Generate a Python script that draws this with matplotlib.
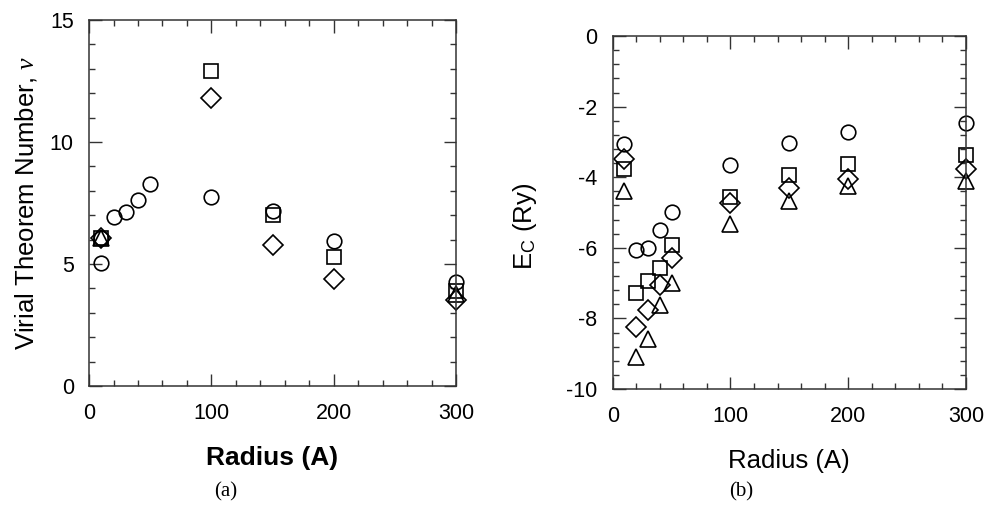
import matplotlib
matplotlib.use("Agg")
import matplotlib.pyplot as plt
from matplotlib.ticker import MultipleLocator

plt.rcParams['font.family'] = ['Liberation Sans', 'DejaVu Sans']
plt.rcParams['mathtext.fontset'] = 'custom'
plt.rcParams['mathtext.rm'] = 'Liberation Sans'
plt.rcParams['mathtext.it'] = 'Liberation Serif:italic'
plt.rcParams['axes.unicode_minus'] = False

# ---- Panel (a): Virial theorem number ----
a_circle_x = [10, 10, 20, 30, 40, 50, 100, 150, 200, 300]
a_circle_y = [5.02, 6.05, 6.94, 7.13, 7.62, 8.29, 7.73, 7.19, 5.96, 4.25]
a_square_x = [10, 100, 150, 200, 300]
a_square_y = [6.05, 12.91, 7.01, 5.30, 3.88]
a_diamond_x = [10, 100, 150, 200, 300]
a_diamond_y = [6.05, 11.82, 5.78, 4.37, 3.52]
a_triangle_x = [10, 300]
a_triangle_y = [6.05, 3.75]

# ---- Panel (b): correlation energy ----
b_x = [10, 20, 30, 40, 50, 100, 150, 200, 300]
b_circle_y = [-3.05, -6.06, -6.01, -5.49, -4.99, -3.65, -3.02, -2.71, -2.47]
b_square_y = [-3.76, -7.28, -6.95, -6.58, -5.92, -4.55, -3.95, -3.62, -3.36]
b_diamond_y = [-3.48, -8.23, -7.77, -7.05, -6.29, -4.74, -4.31, -4.05, -3.77]
b_triangle_y = [-4.38, -9.10, -8.58, -7.61, -7.00, -5.32, -4.67, -4.24, -4.10]

fig = plt.figure(figsize=(9.86, 5.13), dpi=100)
axa = fig.add_axes([0.0903, 0.2476, 0.3722, 0.7135])
axb = fig.add_axes([0.6214, 0.2417, 0.3583, 0.6880])

mk = dict(linestyle='none', markerfacecolor='none', markeredgecolor='black',
          markeredgewidth=1.2, clip_on=False)

def draw(ax, x_c, y_c, x_s, y_s, x_d, y_d, x_t, y_t):
    ax.plot(x_c, y_c, marker='o', markersize=10.5, **mk)
    ax.plot(x_s, y_s, marker='s', markersize=10, **mk)
    ax.plot(x_d, y_d, marker='D', markersize=10, **mk)
    ax.plot(x_t, y_t, marker='^', markersize=11.5, **mk)

draw(axa, a_circle_x, a_circle_y, a_square_x, a_square_y,
     a_diamond_x, a_diamond_y, a_triangle_x, a_triangle_y)
draw(axb, b_x, b_circle_y, b_x, b_square_y, b_x, b_diamond_y, b_x, b_triangle_y)

axa.set_xlim(0, 300)
axa.set_ylim(0, 15)
axa.xaxis.set_major_locator(MultipleLocator(100))
axa.xaxis.set_minor_locator(MultipleLocator(20))
axa.yaxis.set_major_locator(MultipleLocator(5))
axa.yaxis.set_minor_locator(MultipleLocator(1))

axb.set_xlim(0, 300)
axb.set_ylim(-10, 0)
axb.xaxis.set_major_locator(MultipleLocator(100))
axb.xaxis.set_minor_locator(MultipleLocator(20))
axb.yaxis.set_major_locator(MultipleLocator(2))
axb.yaxis.set_minor_locator(MultipleLocator(0.4))

for ax in (axa, axb):
    ax.tick_params(which='both', direction='in', top=True, right=True,
                   width=1, color='#333333')
    ax.tick_params(which='major', length=9, labelsize=15.5)
    ax.tick_params(which='minor', length=4.5)
    ax.tick_params(axis='x', which='major', pad=12)
    ax.tick_params(axis='y', which='major', pad=11)
    for s in ax.spines.values():
        s.set_linewidth(1.1)
        s.set_color('#333333')

axa.set_xlabel('Radius (A)', fontsize=19, fontweight='bold', labelpad=16)
axa.set_ylabel(r'Virial Theorem Number, $\nu$', fontsize=18.5, labelpad=8)
axb.set_xlabel('Radius (A)', fontsize=18.5, labelpad=16)
axb.set_ylabel(r'E$_{\rm C}$ (Ry)', fontsize=18.5, labelpad=8)
axb.yaxis.set_label_coords(-0.21, 0.46)

fig.text(0.229, 0.033, '(a)', family='Liberation Serif', fontsize=15, ha='center')
fig.text(0.752, 0.033, '(b)', family='Liberation Serif', fontsize=15, ha='center')

fig.savefig('out.png', dpi=100)
